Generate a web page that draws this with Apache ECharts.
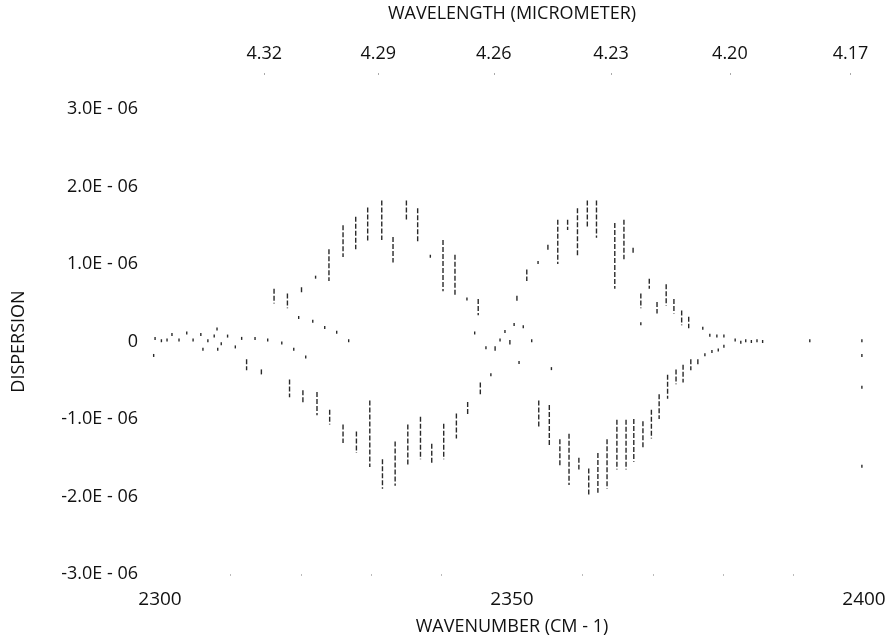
<!DOCTYPE html>
<html>
<head>
<meta charset="utf-8">
<script src="https://cdn.jsdelivr.net/npm/echarts@6/dist/echarts.min.js"></script>
<style>html,body{margin:0;padding:0;background:#fff}#c{width:889px;height:641px}</style>
</head>
<body>
<div id="c"></div>
<script>
// Wavenumber range (cm-1) and dispersion ticks (units of 1E-06)
const xMin = 2300, xMax = 2400, xStep = 50;
const yTicks = [-3, -2, -1, 0, 1, 2, 3];
// Top axis: wavelength tick labels (micrometer)
const wavelengthLabels = ['4.32', '4.29', '4.26', '4.23', '4.20', '4.17'];

// Marks: [wavenumber, low, high] in units of 1E-06
const nearZeroDots = [
  [2299.1,-0.18,-0.18],[2299.3,0.04,0.04],[2300.2,0.01,0.01],[2301.0,0.02,0.02],[2301.7,0.09,0.09],
  [2302.7,0.02,0.02],[2303.8,0.11,0.11],[2304.7,0.02,0.02],[2305.8,0.09,0.09],[2306.1,-0.10,-0.10],
  [2306.8,0.01,0.01],[2307.7,0.07,0.07],[2308.1,0.16,0.16],[2308.2,-0.10,-0.10],[2308.7,-0.03,-0.03],
  [2309.6,0.07,0.07],[2310.7,-0.07,-0.07],[2311.6,0.04,0.04],[2313.5,0.04,0.04],[2315.3,0.02,0.02],
  [2317.3,-0.02,-0.02],[2319.0,-0.10,-0.10],[2320.7,-0.20,-0.20],[2319.7,0.31,0.31],[2321.7,0.26,0.26],
  [2323.4,0.18,0.18],[2325.1,0.12,0.12],[2326.8,0.01,0.01],[2344.7,0.11,0.11],[2346.3,-0.08,-0.08],
  [2347.6,-0.06,-0.12],[2348.3,0.02,0.02],[2349.0,0.13,0.13],[2349.7,0.02,-0.04],[2350.3,0.22,0.22],
  [2351.6,0.17,0.21],[2352.8,0.01,0.01],[2347.0,-0.43,-0.43],[2351.0,-0.27,-0.27],[2355.6,-0.35,-0.35],
  [2377.1,0.17,0.17],[2378.1,0.08,0.08],[2379.1,0.07,0.07],[2380.1,0.07,0.07],
  [2381.7,0.02,0.02],[2382.5,-0.01,-0.01],[2383.2,0.01,0.01],[2384.0,0.00,0.00],[2384.8,0.01,0.01],
  [2385.6,0.00,0.00],[2392.3,0.01,0.01],[2399.7,0.01,0.01],[2399.7,-0.18,-0.18],[2399.7,-0.59,-0.59],
  [2399.7,-1.61,-1.61],
  [2377.4,-0.17,-0.17],[2378.4,-0.13,-0.13],[2379.3,-0.11,-0.11],[2380.1,-0.06,-0.06]
];

const upperSegments = [
  [2316.2,0.49,0.68],[2318.1,0.43,0.62],[2320.1,0.62,0.70],[2322.1,0.83,0.83],[2324.0,0.78,1.19],
  [2326.0,1.09,1.50],[2327.8,1.19,1.61],[2329.5,1.28,1.73],[2331.5,1.31,1.82],[2333.1,1.02,1.35],
  [2335.0,1.57,1.82],[2336.6,1.29,1.72],[2338.4,1.10,1.10],[2340.2,0.65,1.31],[2341.9,0.59,1.12],
  [2343.6,0.55,0.55],[2345.2,0.34,0.55],[2350.7,0.51,0.59],[2352.1,0.78,0.93],[2353.7,1.02,1.02],
  [2355.1,1.16,1.25],[2356.5,1.00,1.57],[2357.9,1.44,1.57],[2359.3,1.10,1.72],[2360.7,1.46,1.82],
  [2362.0,1.34,1.82],[2364.6,0.68,1.53],[2365.9,1.06,1.57],[2367.2,1.12,1.21],[2368.3,0.43,0.62],
  [2368.3,0.23,0.23],[2369.5,0.68,0.81],[2370.6,0.36,0.51],[2371.9,0.46,0.74],[2373.0,0.36,0.55],
  [2374.1,0.21,0.40],[2375.1,0.17,0.32]
];

const lowerSegments = [
  [2312.3,-0.23,-0.37],[2314.4,-0.36,-0.44],[2318.4,-0.49,-0.72],[2320.3,-0.63,-0.80],[2322.3,-0.65,-0.95],
  [2324.1,-0.88,-1.07],[2326.0,-1.07,-1.31],[2327.9,-1.16,-1.44],[2329.8,-0.76,-1.62],[2331.6,-1.52,-1.90],
  [2333.4,-1.29,-1.86],[2335.2,-1.07,-1.61],[2337.0,-0.97,-1.52],[2338.6,-1.32,-1.58],[2340.3,-1.06,-1.52],
  [2342.1,-0.93,-1.25],[2343.7,-0.78,-0.95],[2345.5,-0.53,-0.68],
  [2353.8,-0.76,-1.10],[2355.3,-0.82,-1.35],[2356.8,-1.26,-1.61],[2358.1,-1.19,-1.85],[2359.5,-1.50,-1.65],
  [2360.9,-1.64,-2.00],[2362.2,-1.44,-1.95],[2363.5,-1.26,-1.90],[2364.9,-1.01,-1.65],[2366.2,-1.01,-1.65],
  [2367.3,-1.00,-1.55],[2368.6,-1.03,-1.38],[2369.8,-0.88,-1.25],[2370.9,-0.68,-1.00],[2372.1,-0.43,-0.74],
  [2373.3,-0.36,-0.55],[2374.3,-0.30,-0.53],[2375.4,-0.23,-0.37],[2376.4,-0.23,-0.30]
];

const FONT = '"Open Sans", "Noto Sans", sans-serif';
const chart = echarts.init(document.getElementById('c'), null, {renderer: 'canvas'});

function seg(params, api) {
  const x = api.value(0), a = api.value(1), b = api.value(2);
  const p1 = api.coord([x, Math.max(a, b)]);
  const p2 = api.coord([x, Math.min(a, b)]);
  let y1 = p1[1], y2 = p2[1];
  if (y2 - y1 < 2.5) { const m = (y1 + y2) / 2; y1 = m - 1.5; y2 = m + 1.5; }
  return {type: 'line', shape: {x1: p1[0], y1: y1, x2: p1[0], y2: y2},
          style: {stroke: '#2a2a2a', lineWidth: 1.4, lineDash: [5, 2]}};
}
function series(name, data) {
  return {name, type: 'custom', renderItem: seg, data, encode: {x: 0, y: [1, 2]}, silent: true, clip: false};
}

chart.setOption({
  animation: false,
  backgroundColor: '#fff',
  textStyle: {fontFamily: FONT},
  grid: {left: 160, right: 25, top: 107, bottom: 61, containLabel: false},
  xAxis: [{
    type: 'value', position: 'bottom', min: xMin, max: xMax, interval: xStep,
    name: 'WAVENUMBER (CM - 1)', nameLocation: 'middle', nameGap: 44,
    nameTextStyle: {fontFamily: FONT, fontSize: 18, color: '#111'},
    axisLine: {show: false, onZero: false}, axisTick: {show: false},
    minorTick: {show: true, splitNumber: 5, length: 2, lineStyle: {color: '#bbb'}},
    splitLine: {show: false},
    axisLabel: {fontFamily: FONT, fontSize: 19, color: '#111', margin: 16, formatter: v => String(v)}
  }, {
    type: 'value', position: 'top', min: xMin, max: xMax, offset: 36,
    name: 'WAVELENGTH (MICROMETER)', nameLocation: 'middle', nameGap: 50,
    nameTextStyle: {fontFamily: FONT, fontSize: 18, color: '#111'},
    axisLine: {show: false, onZero: false},
    axisTick: {show: true, length: 2, inside: true, customValues: wavelengthLabels.map(s => 1e4 / parseFloat(s)), lineStyle: {color: '#aaa'}},
    splitLine: {show: false},
    axisLabel: {fontFamily: FONT, fontSize: 18, color: '#111', margin: 10,
      customValues: wavelengthLabels.map(s => 1e4 / parseFloat(s)),
      formatter: v => (1e4 / v).toFixed(2)}
  }],
  yAxis: {
    type: 'value', min: yTicks[0], max: yTicks[yTicks.length - 1], interval: 1,
    name: 'DISPERSION', nameLocation: 'middle', nameGap: 132, nameRotate: 90,
    nameTextStyle: {fontFamily: FONT, fontSize: 18, color: '#111'},
    axisLine: {show: false, onZero: false}, axisTick: {show: false}, splitLine: {show: false},
    axisLabel: {fontFamily: FONT, fontSize: 18, color: '#111', margin: 22,
      formatter: v => v === 0 ? '0' : v.toFixed(1) + 'E - 06'}
  },
  series: [series('nearZero', nearZeroDots), series('upper', upperSegments), series('lower', lowerSegments)]
});
</script>
</body>
</html>
